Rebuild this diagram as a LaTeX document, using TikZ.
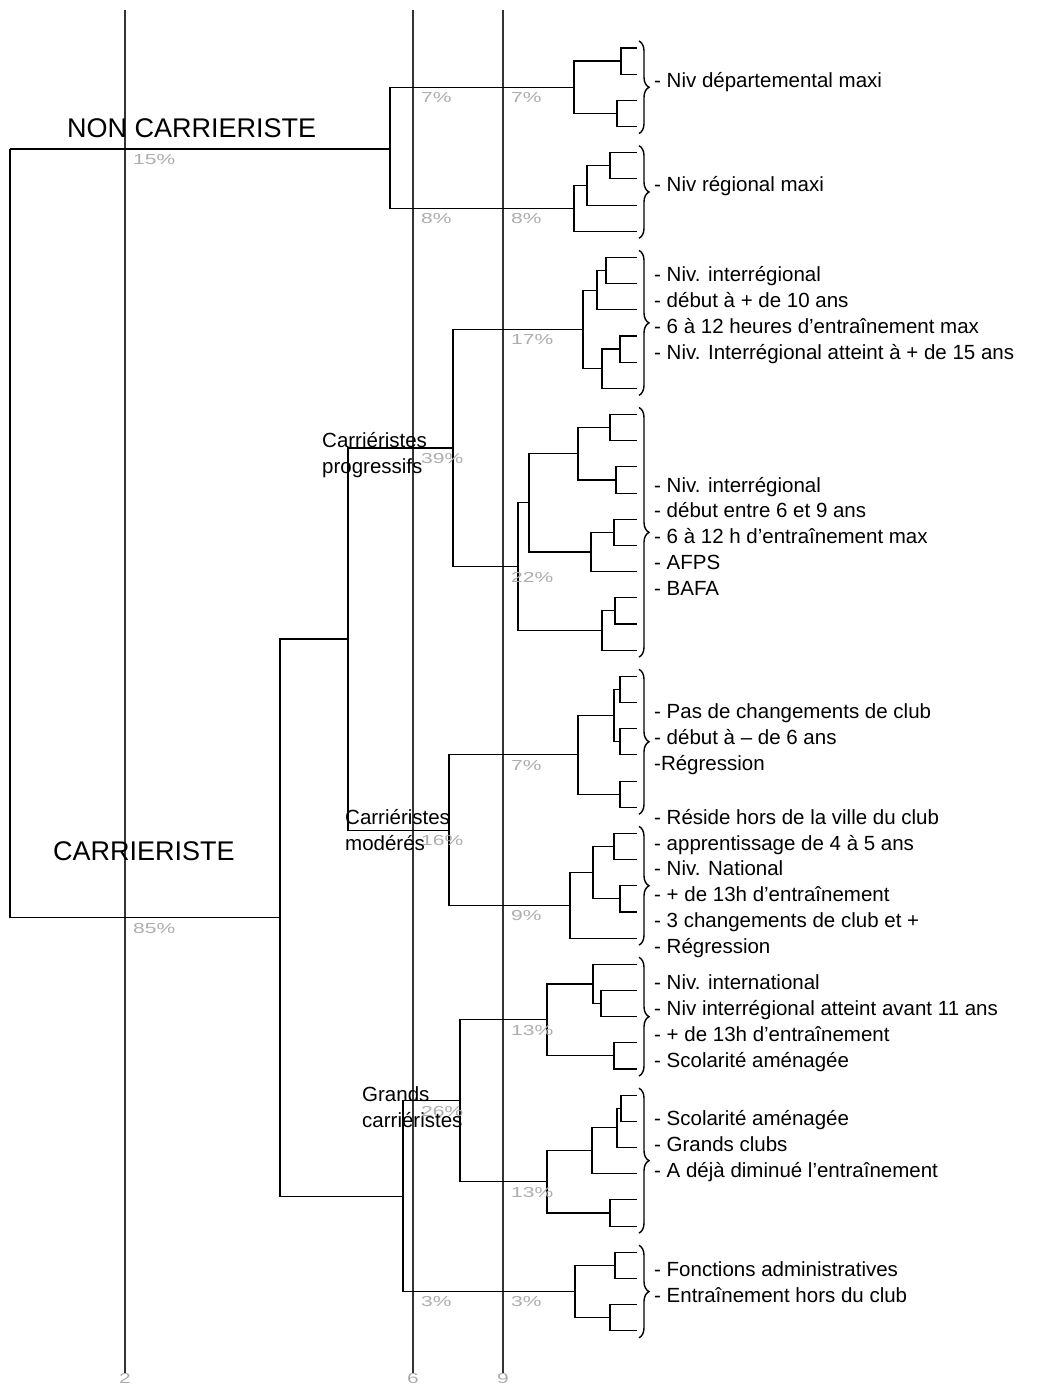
\documentclass[tikz,border=0pt]{standalone}
\usepackage{fontspec}
\setmainfont{Liberation Sans}
\newfontfamily\pctfont{Liberation Sans}[FakeStretch=1.45]
\usetikzlibrary{positioning,decorations.pathreplacing}

\begin{document}
\begin{tikzpicture}[x=1pt, y=-1pt,
  tree/.style={line width=1.1pt, black},
  scaleline/.style={line width=1.1pt, black!80},
  pct/.style={anchor=north west, inner sep=0pt, text=black!32, font=\pctfont\fontsize{14.5}{14.5}\selectfont},
  axis/.style={inner sep=0pt, text=black!32, font=\pctfont\fontsize{14.5}{14.5}\selectfont},
  items/.style={anchor=base west, inner sep=0pt, align=left, font=\fontsize{20.5}{25.7}\selectfont},
  grp/.style={anchor=base west, inner sep=0pt, align=left, font=\fontsize{20.5}{26}\selectfont},
  big/.style={anchor=base west, inner sep=0pt, font=\fontsize{27}{30}\selectfont},
  cbrace/.style={decorate, decoration={brace, amplitude=10pt}, line width=1.4pt}
]
\useasboundingbox (0,0) rectangle (1036,1384);

% scale of the tree
\foreach \x/\t in {125/2, 413/6, 503/9} {
  \coordinate (top\t) at (\x,10);
  \node[axis] (ax\t) at (\x,1378) {\t};
  \draw[scaleline] (top\t) -- (ax\t.north);
}

% leaves
\foreach \i in {0,...,49}
  \coordinate (l\i) at (637, 48+26.18*\i);

% merges
\coordinate (root) at (10,149);
\coordinate (nonc) at (390,149);
\coordinate (dA) at (621,61);      \coordinate (dB) at (617,113.5);
\coordinate (dep) at (574,87.2);
\coordinate (rA) at (610,165.8);   \coordinate (rB) at (587,185.4);
\coordinate (reg) at (574,208.3);
\coordinate (carr) at (280,917.6);
\coordinate (progmod) at (348,639);
\coordinate (prog) at (453,448);
\coordinate (pA) at (606,270.5);   \coordinate (pB) at (597,290.2);
\coordinate (pC) at (620,349);     \coordinate (pD) at (602,368.7);
\coordinate (p17) at (583,329.4);
\coordinate (qA) at (610,427.6);   \coordinate (qB) at (616,480);
\coordinate (qC) at (578,453.8);   \coordinate (qD) at (614,532.3);
\coordinate (qE) at (591,552);     \coordinate (qF) at (529,502.9);
\coordinate (qG) at (615,610.9);   \coordinate (qH) at (602,630.5);
\coordinate (p22) at (518,566.7);
\coordinate (mod) at (449,830.1);
\coordinate (mA) at (620,689.4);   \coordinate (mB) at (620,741.8);
\coordinate (mC) at (614,715.6);   \coordinate (mD) at (620,794.1);
\coordinate (m7) at (578,754.9);
\coordinate (nA) at (614,846.5);   \coordinate (nB) at (620,898.9);
\coordinate (nC) at (593,872.7);
\coordinate (m9) at (570,905.4);
\coordinate (grand) at (403,1196.2);
\coordinate (g26) at (460,1100.9);
\coordinate (gA) at (601,1003.6);  \coordinate (gB) at (593,984);
\coordinate (gC) at (614,1055.9);
\coordinate (g13a) at (547,1019.9);
\coordinate (hA) at (621,1108.3);  \coordinate (hB) at (617,1127.9);
\coordinate (hC) at (592,1150.8);  \coordinate (hD) at (610,1213);
\coordinate (g13b) at (547,1181.9);
\coordinate (kA) at (615,1265.4);  \coordinate (kB) at (610,1317.7);
\coordinate (g3) at (575,1291.5);

\foreach \p/\c in {root/nonc, root/carr, nonc/dep, nonc/reg,
    dep/dA, dep/dB, dA/l0, dA/l1, dB/l2, dB/l3,
    reg/rB, reg/l7, rB/rA, rB/l6, rA/l4, rA/l5,
    carr/progmod, carr/grand, progmod/prog, progmod/mod,
    prog/p17, prog/p22,
    p17/pB, p17/pD, pB/pA, pB/l10, pA/l8, pA/l9, pD/pC, pD/l13, pC/l11, pC/l12,
    p22/qF, p22/qH, qF/qC, qF/qE, qC/qA, qC/qB, qA/l14, qA/l15, qB/l16, qB/l17,
    qE/qD, qE/l20, qD/l18, qD/l19, qH/qG, qH/l23, qG/l21, qG/l22,
    mod/m7, mod/m9, m7/mC, m7/mD, mC/mA, mC/mB, mA/l24, mA/l25, mB/l26, mB/l27,
    mD/l28, mD/l29, m9/nC, m9/l34, nC/nA, nC/nB, nA/l30, nA/l31, nB/l32, nB/l33,
    grand/g26, grand/g3, g26/g13a, g26/g13b,
    g13a/gB, g13a/gC, gB/l35, gB/gA, gA/l36, gA/l37, gC/l38, gC/l39,
    g13b/hC, g13b/hD, hC/hB, hC/l43, hB/hA, hB/l42, hA/l40, hA/l41, hD/l44, hD/l45,
    g3/kA, g3/kB, kA/l46, kA/l47, kB/l48, kB/l49}
  \draw[tree] (\p) |- (\c);

% braces round each group of leaves
\foreach \a/\b in {0/3, 4/7, 8/13, 14/23, 24/29, 30/34, 35/39, 40/45, 46/49}
  \draw[cbrace] ([shift={(2,-7)}]l\a) -- ([shift={(2,7)}]l\b);

% percentages
\foreach \x/\y/\t [count=\k] in {125/149/15, 125/918/85, 413/87/7, 503/87/7,
    413/208/8, 503/208/8, 503/329/17, 413/448/39, 503/567/22, 503/755/7,
    413/830/16, 503/905/9, 503/1020/13, 413/1101/26, 503/1182/13,
    413/1291/3, 503/1291/3}
  \node[pct] (pc\k) at (\x+8,\y+5) {\t\%};

\node[big] (nonlab) at (67,137) {NON CARRIERISTE};
\node[big] (carlab) at (53,860) {CARRIERISTE};
% base = last line
\node[grp] (cprog) at (322,473) {Carriéristes\\progressifs};
\node[grp] (cmod) at (345,850) {Carriéristes\\modérés};
\node[grp] (cgrand) at (362,1127) {Grands\\carriéristes};

\node[items] (tdep) at (654,87) {- Niv départemental maxi};
\node[items] (treg) at (654,191) {- Niv régional maxi};
\node[items] (t17) at (654,359) {- Niv. interrégional\\- début à + de 10 ans\\- 6 à 12 heures d’entraînement max\\- Niv. Interrégional atteint à + de 15 ans};
\node[items] (t22) at (654,595) {- Niv. interrégional\\- début entre 6 et 9 ans\\- 6 à 12 h d’entraînement max\\- AFPS\\- BAFA};
\node[items] (tm7) at (654,770) {- Pas de changements de club\\- début à – de 6 ans\\-Régression};
\node[items] (tm9) at (654,953) {- Réside hors de la ville du club\\- apprentissage de 4 à 5 ans\\- Niv. National\\- + de 13h d’entraînement\\- 3 changements de club et +\\- Régression};
\node[items] (tg13a) at (654,1067) {- Niv. international\\- Niv interrégional atteint avant 11 ans\\- + de 13h d’entraînement\\- Scolarité aménagée};
\node[items] (tg13b) at (654,1177) {- Scolarité aménagée\\- Grands clubs\\- A déjà diminué l’entraînement};
\node[items] (tg3) at (654,1302) {- Fonctions administratives\\- Entraînement hors du club};
\end{tikzpicture}
\end{document}
